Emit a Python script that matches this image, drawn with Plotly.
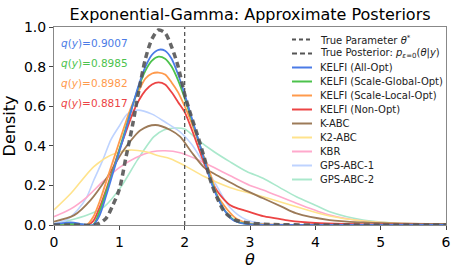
import plotly.graph_objects as go

# ---------------- data ----------------
true_theta = 2.0

post_x = [0, 0.3, 0.6, 0.7, 0.8, 0.9, 1.0, 1.1, 1.2, 1.3, 1.4, 1.5, 1.6, 1.7, 1.8, 1.9, 2.0,
          2.1, 2.2, 2.3, 2.4, 2.5, 2.6, 2.7, 2.8, 3.0, 3.3, 4.0, 5.0, 6.0]
post_y = [0, 0, 0, 0.01, 0.035, 0.1, 0.18, 0.34, 0.50, 0.68, 0.84, 0.94, 0.985, 0.97, 0.90, 0.80, 0.66,
          0.55, 0.45, 0.34, 0.22, 0.135, 0.07, 0.04, 0.022, 0.01, 0.003, 0, 0, 0]

k_x = [0, 0.1, 0.2, 0.3, 0.4, 0.5, 0.6, 0.7, 0.8, 0.9, 1.0, 1.1, 1.2, 1.3, 1.4, 1.5, 1.6, 1.7,
       1.8, 1.9, 2.0, 2.1, 2.2, 2.3, 2.4, 2.5, 2.6, 2.7, 2.8, 3.0, 3.2, 3.4, 3.6, 4.0, 4.5, 5.0, 6.0]
kelfi_all = [0.005, 0.008, 0.012, 0.012, 0.006, 0.0, 0.0, 0.05, 0.15, 0.26, 0.37, 0.48, 0.60, 0.71,
             0.80, 0.86, 0.885, 0.88, 0.84, 0.76, 0.66, 0.55, 0.44, 0.33, 0.22, 0.14, 0.08, 0.035,
             0.015, 0.003, 0.001, 0, 0, 0, 0, 0, 0]
kelfi_global = [0.004, 0.005, 0.006, 0.005, 0.003, 0.0, 0.0, 0.07, 0.17, 0.27, 0.38, 0.49, 0.60, 0.70,
                0.78, 0.83, 0.85, 0.84, 0.80, 0.73, 0.64, 0.54, 0.44, 0.33, 0.23, 0.145, 0.08, 0.04,
                0.017, 0.004, 0.001, 0, 0, 0, 0, 0, 0]
kelfi_local = [0.003, 0.003, 0.003, 0.002, 0.001, 0.0, 0.04, 0.12, 0.22, 0.32, 0.42, 0.52, 0.61, 0.68,
               0.74, 0.765, 0.77, 0.76, 0.72, 0.67, 0.60, 0.52, 0.43, 0.34, 0.25, 0.15, 0.10, 0.06,
               0.03, 0.008, 0.004, 0.002, 0.001, 0, 0, 0, 0]
kelfi_non = [0.003, 0.003, 0.003, 0.002, 0.001, 0.0, 0.02, 0.09, 0.18, 0.28, 0.38, 0.47, 0.56, 0.63,
             0.68, 0.71, 0.72, 0.71, 0.67, 0.62, 0.57, 0.49, 0.40, 0.31, 0.23, 0.17, 0.13, 0.10,
             0.085, 0.065, 0.045, 0.034, 0.022, 0.01, 0.005, 0.003, 0.001]

kabc_x = [0, 0.31, 0.56, 0.82, 1.07, 1.33, 1.55, 1.78, 1.93, 2.1, 2.3, 2.5, 2.7, 2.9, 3.2, 3.5, 3.7,
          4.22, 4.73, 5.2, 6.0]
kabc_y = [0.017, 0.05, 0.126, 0.244, 0.38, 0.48, 0.505, 0.48, 0.446, 0.37, 0.29, 0.25, 0.215, 0.18,
          0.135, 0.09, 0.06, 0.025, 0.013, 0.008, 0.005]

k2abc_x = [0, 0.26, 0.61, 0.87, 1.15, 1.4, 1.6, 1.78, 2.0, 2.3, 2.69, 3.2, 3.71, 4.22, 4.73, 5.2, 6.0]
k2abc_y = [0.076, 0.16, 0.295, 0.353, 0.378, 0.37, 0.35, 0.335, 0.30, 0.245, 0.19, 0.143, 0.092,
           0.045, 0.02, 0.01, 0.004]

kbr_x = [0, 0.25, 0.5, 0.75, 1.0, 1.25, 1.5, 1.7, 1.93, 2.2, 2.45, 2.69, 3.0, 3.2, 3.71, 4.22, 4.73,
         5.2, 6.0]
kbr_y = [0.042, 0.08, 0.14, 0.22, 0.29, 0.34, 0.37, 0.375, 0.365, 0.33, 0.29, 0.25, 0.20, 0.177, 0.11,
         0.05, 0.02, 0.01, 0.003]

gps1_x = [0, 0.19, 0.36, 0.5, 0.61, 0.75, 0.87, 1.0, 1.12, 1.28, 1.5, 1.7, 1.93, 2.1, 2.23, 2.44,
          2.69, 2.95, 3.2, 3.5, 6.0]
gps1_y = [0.005, 0.025, 0.076, 0.14, 0.227, 0.33, 0.43, 0.50, 0.56, 0.58, 0.56, 0.52, 0.47, 0.41,
          0.345, 0.227, 0.09, 0.025, 0.008, 0.002, 0]

gps2_x = [0, 0.2, 0.51, 0.77, 1.02, 1.28, 1.53, 1.68, 1.85, 2.0, 2.2, 2.45, 2.69, 2.95, 3.2, 3.45,
          3.71, 4.0, 4.22, 4.73, 5.2, 6.0]
gps2_y = [0.006, 0.02, 0.05, 0.093, 0.19, 0.33, 0.446, 0.48, 0.49, 0.485, 0.43, 0.37, 0.32, 0.27,
          0.236, 0.19, 0.143, 0.10, 0.067, 0.025, 0.01, 0.003]

q_labels = ["0.9007", "0.8985", "0.8982", "0.8817"]

x_ticks = [0, 1, 2, 3, 4, 5, 6]
y_ticks = [0.0, 0.2, 0.4, 0.6, 0.8, 1.0]

# ---------------- styles ----------------
C_BLUE = "#4b7be6"
C_GREEN = "#4cc24c"
C_ORANGE = "#ff9a4c"
C_RED = "#ec4444"
C_BROWN = "#9c7a58"
C_YELLOW = "#ffe38c"
C_PINK = "#ffa9cc"
C_LBLUE = "#bed3ff"
C_MINT = "#aae8cc"
C_GRAY = "#555555"

fig = go.Figure()

def add(x, y, color, width):
    fig.add_trace(go.Scatter(
        x=x, y=y, mode="lines", showlegend=False, hoverinfo="skip",
        line=dict(color=color, width=width, shape="spline", smoothing=0.8)))

add(gps2_x, gps2_y, C_MINT, 1.6)
add(gps1_x, gps1_y, C_LBLUE, 1.6)
add(kbr_x, kbr_y, C_PINK, 1.6)
add(k2abc_x, k2abc_y, C_YELLOW, 1.6)
add(kabc_x, kabc_y, C_BROWN, 1.8)
add(k_x, kelfi_non, C_RED, 1.8)
add(k_x, kelfi_local, C_ORANGE, 1.8)
add(k_x, kelfi_global, C_GREEN, 1.8)
add(k_x, kelfi_all, C_BLUE, 1.8)

fig.add_trace(go.Scatter(
    x=post_x, y=post_y, mode="lines", showlegend=False, opacity=0.9, hoverinfo="skip",
    line=dict(color=C_GRAY, width=3.5, dash="6px,4px", shape="spline", smoothing=0.8)))

fig.add_trace(go.Scatter(
    x=[true_theta, true_theta], y=[0, 1], mode="lines", showlegend=False, hoverinfo="skip",
    line=dict(color=C_GRAY, width=1.3, dash="4px,3px")))

# ---------------- legend (drawn as text + line samples) ----------------
legend_items = [
    ("True Parameter <i>θ</i><sup>*</sup>", C_GRAY, "4px,3px"),
    ("True Posterior: <i>p</i><sub><i>ε</i>=0</sub>(<i>θ</i>|<i>y</i>)", C_GRAY, "5px,3px"),
    ("KELFI (All-Opt)", C_BLUE, "solid"),
    ("KELFI (Scale-Global-Opt)", C_GREEN, "solid"),
    ("KELFI (Scale-Local-Opt)", C_ORANGE, "solid"),
    ("KELFI (Non-Opt)", C_RED, "solid"),
    ("K-ABC", C_BROWN, "solid"),
    ("K2-ABC", C_YELLOW, "solid"),
    ("KBR", C_PINK, "solid"),
    ("GPS-ABC-1", C_LBLUE, "solid"),
    ("GPS-ABC-2", C_MINT, "solid"),
]
PX0, PW, PY0, PH = 54.0, 392.0, 27.0, 198.0
def px2x(px):
    return (px - PX0) / PW
def py2y(py):
    return (PY0 + PH - py) / PH

for i, (label, col, dash) in enumerate(legend_items):
    row_py = 39.5 + 14.0 * i
    fig.add_shape(type="line", xref="paper", yref="paper",
                  x0=px2x(292), x1=px2x(312), y0=py2y(row_py), y1=py2y(row_py),
                  line=dict(color=col, width=2, dash=dash))
    fig.add_annotation(x=px2x(318), y=py2y(row_py), xref="paper", yref="paper",
                       xanchor="left", yanchor="middle", showarrow=False,
                       text=label, font=dict(size=10, color="#222"))

q_colors = [C_BLUE, C_GREEN, C_ORANGE, C_RED]
for i, (lab, col) in enumerate(zip(q_labels, q_colors)):
    fig.add_annotation(
        x=px2x(59), y=py2y(43 + 20 * i), xref="paper", yref="paper",
        xanchor="left", yanchor="middle", showarrow=False,
        text=f"<i>q</i>(<i>y</i>)={lab}", font=dict(color=col, size=10.5))

fig.update_layout(
    width=458, height=275,
    margin=dict(l=54, r=12, t=27, b=50),
    paper_bgcolor="white", plot_bgcolor="white",
    font=dict(family="DejaVu Sans", color="black"),
    title=dict(text="Exponential-Gamma: Approximate Posteriors", x=0.546, xanchor="center",
               y=0.948, yanchor="middle", font=dict(size=16, color="black")),
    showlegend=False,
    hovermode=False,
)
fig.update_xaxes(range=[0, 6], tickvals=x_ticks, ticks="outside", ticklen=4, tickcolor="#444",
                 showline=True, linecolor="#888", linewidth=1, mirror=True, showgrid=False,
                 zeroline=False, tickfont=dict(size=14), automargin=False,
                 title=dict(text="<i>θ</i>", font=dict(size=16), standoff=0))
fig.update_yaxes(range=[0, 1.0], tickvals=y_ticks, tickformat=".1f", ticks="outside", ticklen=4,
                 tickcolor="#444", showline=True, linecolor="#888", linewidth=1, mirror=True,
                 showgrid=False, zeroline=False, tickfont=dict(size=14), automargin=False,
                 title=dict(text="Density", font=dict(size=16), standoff=4))

fig.write_html("out.html", config={"displayModeBar": False, "staticPlot": True},
               post_script="document.body.style.margin='0';")
